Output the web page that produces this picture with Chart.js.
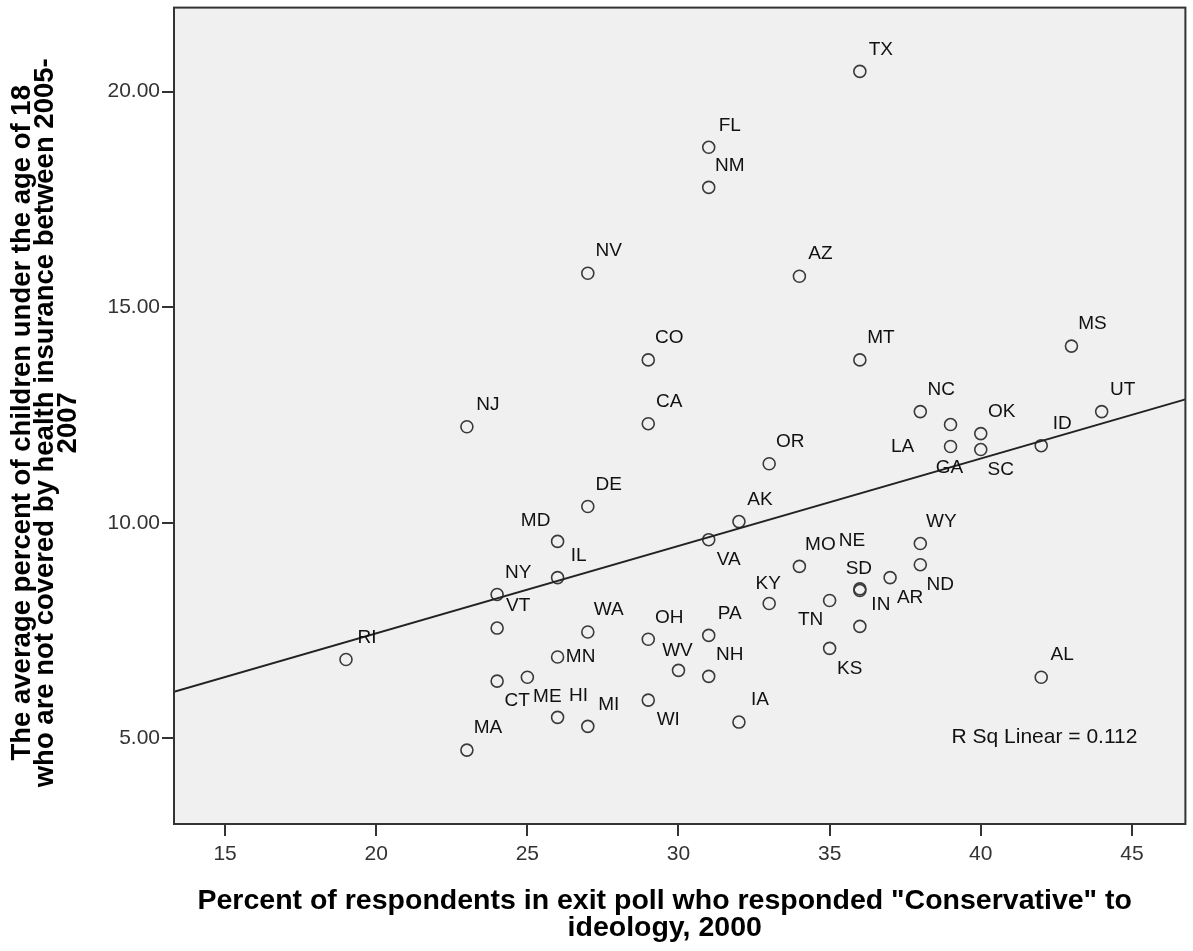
<!DOCTYPE html>
<html>
<head>
<meta charset="utf-8">
<script src="https://cdn.jsdelivr.net/npm/chart.js@4.4.1/dist/chart.umd.min.js"></script>
<style>
  html, body { margin: 0; padding: 0; background: #ffffff; }
  #wrap { width: 1193px; height: 951px; }
</style>
</head>
<body>
<div id="wrap"><canvas id="c" width="1193" height="951"></canvas></div>
<script>
// ---- data ----
const states = ['TX','FL','NM','NV','AZ','CO','MT','MS','NC','UT',
                'CA','NJ','LA','GA','OK','SC','ID','OR','DE','AK',
                'MD','VA','WY','IL','NY','MO','KY','TN','SD','NE',
                'IN','AR','ND','KS','RI','VT','WA','OH','PA','WV',
                'NH','MN','CT','ME','HI','MI','WI','IA','MA','AL'];
const conservativePct = [36,31,31,27,34,29,36,43,38,44,
                         29,23,39,39,40,40,42,33,27,32,
                         26,31,38,26,24,34,33,35,36,36,
                         36,37,38,35,19,24,27,29,31,30,
                         31,26,24,25,26,27,29,32,23,42];
const uninsuredKidsPct = [20.47,18.71,17.78,15.79,15.72,13.78,13.78,14.10,12.58,12.58,
                          12.30,12.23,12.28,11.77,12.07,11.70,11.79,11.37,10.38,10.03,
                          9.57,9.61,9.52,8.73,8.34,8.99,8.13,8.20,8.47,8.43,
                          7.60,8.73,9.03,7.09,6.83,7.56,7.47,7.30,7.39,6.58,
                          6.44,6.89,6.33,6.42,5.49,5.28,5.89,5.38,4.73,6.42];
const xTickValues = [15,20,25,30,35,40,45];
const yTickValues = [5,10,15,20];
const xTitleLines = ['Percent of respondents in exit poll who responded "Conservative" to', 'ideology, 2000'];
const yTitleLines = ['The average percent of children under the age of 18',
                     'who are not covered by health insurance between 2005-',
                     '2007'];
const rSqText = 'R Sq Linear = 0.112';

// ---- label placement (style) ----
const anchorOffsets = {
  ne: [21, -22], se: [20, 20], sw: [-19, 19], nw: [-22, -21],
  n: [-1, -20], s: [-1, 21], e: [23, 0], wsw: [-48, 22], nn: [-8, -50]
};
const labelAnchor = {
  MD: 'nw', VA: 'se', KY: 'n', TN: 'sw', SD: 'n', NE: 'nn', AR: 'se', ND: 'se',
  KS: 'se', LA: 'wsw', GA: 's', SC: 'se', WV: 'n', MN: 'e', CT: 'se', ME: 'se', WI: 'se'
};

// ---- axis extents ----
const X_MIN = 13.31, X_MAX = 46.77;
const Y_MIN = 3.016, Y_MAX = 21.95;

const points = states.map((s, i) => ({ x: conservativePct[i], y: uninsuredKidsPct[i] }));

// least-squares fit line from the data
const n = points.length;
const mx = conservativePct.reduce((a, b) => a + b, 0) / n;
const my = uninsuredKidsPct.reduce((a, b) => a + b, 0) / n;
let sxy = 0, sxx = 0;
for (let i = 0; i < n; i++) {
  sxy += (conservativePct[i] - mx) * (uninsuredKidsPct[i] - my);
  sxx += (conservativePct[i] - mx) ** 2;
}
const slope = sxy / sxx;
const intercept = my - slope * mx;
const fitLine = [
  { x: X_MIN, y: intercept + slope * X_MIN },
  { x: X_MAX, y: intercept + slope * X_MAX }
];

const FONT = '"Liberation Sans", Arial, sans-serif';

const decorPlugin = {
  id: 'decor',
  beforeDraw(chart) {
    const { ctx, chartArea: a } = chart;
    ctx.save();
    ctx.fillStyle = '#ffffff';
    ctx.fillRect(0, 0, chart.width, chart.height);
    ctx.fillStyle = '#f0f0f0';
    ctx.fillRect(a.left, a.top, a.right - a.left, a.bottom - a.top);
    ctx.restore();
  },
  afterDatasetsDraw(chart) {
    const { ctx, chartArea: a } = chart;
    const meta = chart.getDatasetMeta(0);
    ctx.save();
    ctx.font = '19px ' + FONT;
    ctx.fillStyle = '#111111';
    ctx.textAlign = 'center';
    ctx.textBaseline = 'middle';
    meta.data.forEach((el, i) => {
      const st = states[i];
      const off = anchorOffsets[labelAnchor[st] || 'ne'];
      ctx.fillText(st, el.x + off[0], el.y + off[1]);
    });
    // R squared note
    ctx.font = '21px ' + FONT;
    ctx.textAlign = 'right';
    ctx.fillText(rSqText, a.right - 48, chart.scales.y.getPixelForValue(5) - 1);
    ctx.restore();
  },
  afterDraw(chart) {
    const { ctx, chartArea: a } = chart;
    ctx.save();
    ctx.strokeStyle = '#333333';
    ctx.lineWidth = 2;
    ctx.strokeRect(a.left, a.top, a.right - a.left, a.bottom - a.top);
    // axis titles
    ctx.fillStyle = '#000000';
    ctx.font = 'bold 28.5px ' + FONT;
    ctx.textAlign = 'center';
    ctx.textBaseline = 'middle';
    const cx = (a.left + a.right) / 2 - 15;
    xTitleLines.forEach((t, i) => ctx.fillText(t, cx, a.bottom + 77 + i * 27));
    ctx.font = 'bold 27.5px ' + FONT;
    const cy = (a.top + a.bottom) / 2 + 7;
    ctx.translate(0, cy);
    ctx.rotate(-Math.PI / 2);
    yTitleLines.forEach((t, i) => ctx.fillText(t, 0, 22 + i * 23));
    ctx.restore();
  }
};

new Chart(document.getElementById('c'), {
  type: 'scatter',
  data: {
    datasets: [
      {
        data: points,
        pointRadius: 6,
        pointHoverRadius: 6,
        pointBorderWidth: 1.6,
        pointBorderColor: '#3a3a3a',
        pointBackgroundColor: 'rgba(0,0,0,0)',
        showLine: false,
        order: 2
      },
      {
        type: 'line',
        data: fitLine,
        borderColor: '#222222',
        borderWidth: 2,
        pointRadius: 0,
        fill: false,
        order: 1
      }
    ]
  },
  options: {
    responsive: false,
    devicePixelRatio: 1,
    animation: false,
    layout: { padding: { top: 6, right: 7, left: 0, bottom: 0 } },
    plugins: { legend: { display: false }, tooltip: { enabled: false } },
    scales: {
      x: {
        type: 'linear',
        min: X_MIN, max: X_MAX,
        afterFit(scale) { scale.height = 127; scale.paddingLeft = 0; scale.paddingRight = 0; },
        afterBuildTicks(scale) { scale.ticks = xTickValues.map(v => ({ value: v })); },
        border: { display: false },
        grid: { display: true, drawOnChartArea: false, drawTicks: true, tickLength: 12, color: '#333333', lineWidth: 2 },
        ticks: { font: { family: FONT, size: 21 }, color: '#333333', padding: 6, maxRotation: 0,
                 callback: v => String(v) }
      },
      y: {
        type: 'linear',
        min: Y_MIN, max: Y_MAX,
        afterFit(scale) { scale.width = 174; scale.paddingTop = 0; scale.paddingBottom = 0; },
        afterBuildTicks(scale) { scale.ticks = yTickValues.map(v => ({ value: v })); },
        border: { display: false },
        grid: { display: true, drawOnChartArea: false, drawTicks: true, tickLength: 12, color: '#333333', lineWidth: 2 },
        ticks: { font: { family: FONT, size: 21 }, color: '#333333', padding: 2,
                 callback: v => Number(v).toFixed(2) }
      }
    }
  },
  plugins: [decorPlugin]
});
</script>
</body>
</html>
